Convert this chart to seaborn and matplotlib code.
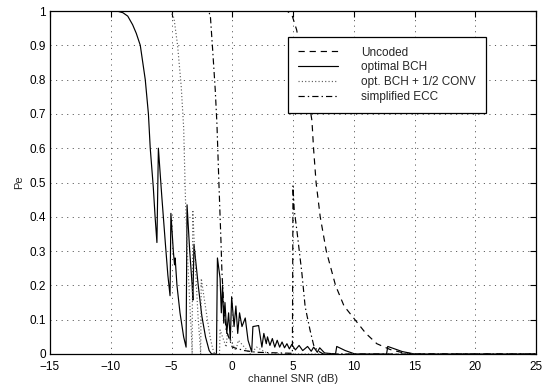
import matplotlib
matplotlib.use("Agg")
import matplotlib.pyplot as plt
import seaborn as sns
import pandas as pd

# ---- data ----
uncoded_x = [-15, 4.5, 4.9, 5.3, 5.8, 6.2, 6.56, 6.69, 6.9, 7.24, 7.74, 8.5, 9.2, 10.1, 11.0, 11.9, 13.0, 14.0, 15.0, 25]
uncoded_y = [1.0, 1.0, 0.99, 0.945, 0.85, 0.76, 0.68, 0.6, 0.5, 0.4, 0.3, 0.2, 0.14, 0.1, 0.06, 0.03, 0.013, 0.004, 0.0, 0.0]

bch_x = [-15, -9.5, -9.0, -8.6, -8.2, -7.9, -7.57, -7.16, -6.9, -6.75, -6.5, -6.35, -6.2,
         -6.08, -5.8, -5.5, -5.3, -5.12,
         -5.05, -4.85, -4.75, -4.7, -4.55, -4.3, -4.0, -3.8,
         -3.72, -3.5, -3.3, -3.24,
         -3.15, -2.8, -2.5, -2.2, -1.9, -1.7, -1.3,
         -1.22, -1.0, -0.9, -0.8, -0.7, -0.6, -0.45, -0.3, -0.16, -0.05, 0.15, 0.3, 0.45, 0.6, 0.8,
         1.07, 1.3, 1.6, 1.7, 2.17, 2.44, 2.6, 2.8, 2.9, 3.1, 3.3, 3.5, 3.7, 3.9, 4.1, 4.3, 4.5,
         4.7, 4.9, 5.2, 5.5, 5.8, 6.2, 6.5, 6.7, 7.0, 7.2, 7.6, 8.5, 8.6, 9.3, 10.1, 12.7, 12.8,
         14.0, 15.0, 25]
bch_y = [1.0, 1.0, 0.995, 0.985, 0.96, 0.935, 0.9, 0.8, 0.7, 0.6, 0.487, 0.4, 0.325,
         0.6, 0.46, 0.32, 0.23, 0.17,
         0.41, 0.3, 0.26, 0.28, 0.2, 0.12, 0.05, 0.02,
         0.435, 0.3, 0.2, 0.157,
         0.32, 0.2, 0.11, 0.05, 0.01, 0.0, 0.0,
         0.28, 0.22, 0.12, 0.2, 0.09, 0.15, 0.06, 0.12, 0.04, 0.167, 0.08, 0.14, 0.06, 0.12, 0.08,
         0.105, 0.04, 0.006, 0.08, 0.083, 0.02, 0.06, 0.03, 0.05, 0.025, 0.045, 0.02, 0.04, 0.02, 0.035, 0.018, 0.03,
         0.015, 0.028, 0.012, 0.025, 0.01, 0.022, 0.008, 0.02, 0.005, 0.018, 0.003, 0.0, 0.022, 0.01, 0.0, 0.0, 0.022,
         0.007, 0.0, 0.0]

conv_x = [-15, -5.1, -4.8, -4.5, -4.2, -4.0, -3.85, -3.7, -3.5, -3.35, -3.3,
          -3.25, -3.1, -2.95, -2.8, -2.65, -2.6,
          -2.55, -2.3, -2.0, -1.8, -1.6, -1.45, -1.05,
          -1.0, -0.5, -0.4, 0.3, 0.5, 1.5, 2.0, 3.0, 25]
conv_y = [1.0, 1.0, 0.98, 0.9, 0.78, 0.66, 0.45, 0.3, 0.15, 0.05, 0.0,
          0.42, 0.3, 0.2, 0.1, 0.03, 0.0,
          0.22, 0.16, 0.09, 0.045, 0.015, 0.0, 0.0,
          0.07, 0.02, 0.06, 0.01, 0.04, 0.0, 0.02, 0.0, 0.0]

ecc_x = [-15, -1.95, -1.8, -1.6, -1.4, -1.26, -1.1, -0.93, -0.85, -0.7, -0.5, 0.0, 1.0, 2.0, 4.95,
         5.0, 5.1, 5.32, 5.73, 6.0, 6.4, 6.7, 7.0, 7.5, 25]
ecc_y = [1.0, 1.0, 0.985, 0.88, 0.77, 0.67, 0.5, 0.33, 0.24, 0.14, 0.07, 0.02, 0.01, 0.005, 0.002,
         0.49, 0.42, 0.36, 0.236, 0.138, 0.07, 0.026, 0.01, 0.0, 0.0]

labels = ["Uncoded", "optimal BCH", "opt. BCH + 1/2 CONV", "simplified ECC"]
x_ticks = [-15, -10, -5, 0, 5, 10, 15, 20, 25]
x_ticklabels = ["\u221215", "\u221210", "\u22125", "0", "5", "10", "15", "20", "25"]
y_ticks = [0, 0.1, 0.2, 0.3, 0.4, 0.5, 0.6, 0.7, 0.8, 0.9, 1]
y_ticklabels = ["0", "0.1", "0.2", "0.3", "0.4", "0.5", "0.6", "0.7", "0.8", "0.9", "1"]

# ---- style ----
sns.set_style("white")
plt.rcParams["font.family"] = ["Liberation Sans", "DejaVu Sans"]
plt.rcParams["lines.scale_dashes"] = False

fig = plt.figure(figsize=(5.46, 3.9), dpi=100)
ax = fig.add_axes([50 / 546, 36 / 390, 486 / 546, 343 / 390])

series = [
    (uncoded_x, uncoded_y, (0, (4.5, 3.5)), "k"),
    (bch_x, bch_y, "-", "k"),
    (conv_x, conv_y, (0, (0.8, 1.6)), "0.35"),
    (ecc_x, ecc_y, (0, (4.5, 2.2, 1.0, 2.2)), "k"),
]
for (xs, ys, ls, col), lab in zip(series, labels):
    df = pd.DataFrame({"x": xs, "y": ys})
    sns.lineplot(data=df, x="x", y="y", ax=ax, estimator=None, sort=False,
                 color=col, linewidth=0.85, linestyle=ls, label=lab)

ax.set_xlim(-15, 25)
ax.set_ylim(0, 1)
ax.set_xticks(x_ticks)
ax.set_xticklabels(x_ticklabels)
ax.set_yticks(y_ticks)
ax.set_yticklabels(y_ticklabels)
ax.tick_params(direction="in", length=4, width=0.8, top=True, right=True,
               labelsize=8.5, colors="k")
ax.tick_params(axis="x", pad=5)
ax.tick_params(axis="y", pad=3)
ax.grid(True, color="0.35", linestyle=(0, (0.8, 3.2)), linewidth=0.7)
for s in ax.spines.values():
    s.set_color("k")
    s.set_linewidth(0.9)
ax.set_xlabel("channel SNR (dB)", fontsize=8, labelpad=1)
ax.set_ylabel("Pe", fontsize=8, labelpad=4)

leg = ax.legend(loc="upper left", bbox_to_anchor=(0.49, 0.924), fontsize=8.5,
                frameon=True, fancybox=False, framealpha=1, edgecolor="k",
                handlelength=3.4, handletextpad=2.0, labelspacing=0.25,
                borderpad=0.8, borderaxespad=0)
leg.get_frame().set_linewidth(0.9)

fig.savefig("out.png", dpi=100)
